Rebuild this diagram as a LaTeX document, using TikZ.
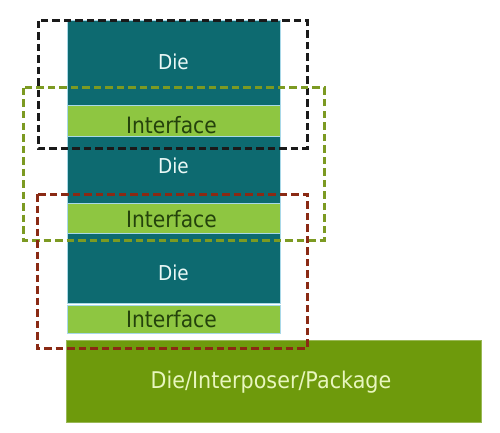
\documentclass[tikz,border=0pt]{standalone}
\usepackage{fontspec}
\setmainfont{DejaVu Sans}[FakeStretch=0.9]
\definecolor{dieC}{HTML}{0D6A70}
\definecolor{intC}{HTML}{8EC641}
\definecolor{pkgC}{HTML}{6E9A0C}
\definecolor{dieT}{HTML}{EAF8F6}
\definecolor{intT}{HTML}{24420C}
\definecolor{pkgT}{HTML}{E8F6BE}
\definecolor{edgeC}{HTML}{A8D8E8}
\definecolor{blkD}{HTML}{1A1A1A}
\definecolor{grnD}{HTML}{7C9A22}
\definecolor{redD}{HTML}{8A2A14}
\tikzset{
  x=1pt, y=-1pt,
  diebox/.style={fill=dieC, draw=edgeC, line width=0.6pt},
  intbox/.style={fill=intC, draw=edgeC, line width=0.6pt},
  pkgbox/.style={fill=pkgC, draw=pkgC!70!white, line width=0.6pt},
  dietext/.style={anchor=base, inner sep=0pt, text=dieT, font=\fontsize{20.5}{24}\selectfont},
  inttext/.style={anchor=base, inner sep=0pt, text=intT, font=\fontsize{22.5}{26}\selectfont},
  pkgtext/.style={anchor=base, inner sep=0pt, text=pkgT, font=\fontsize{23}{27}\selectfont},
  frame/.style={dash pattern=on 7.5pt off 4pt, line width=3pt},
}
\begin{document}
\begin{tikzpicture}
\useasboundingbox (0,0) rectangle (500,433);
\fill[white] (0,0) rectangle (500,433);
% stack
\draw[diebox] (67,20) rectangle (280,105);
\draw[intbox] (67,105) rectangle (280,136);
\draw[diebox] (67,136) rectangle (280,203);
\draw[intbox] (67,203) rectangle (280,233);
\draw[diebox] (67,233) rectangle (280,303);
\draw[intbox] (67,305) rectangle (280,333);
\draw[pkgbox] (66,340) rectangle (481,422);
% labels
\node[dietext] (d1) at (173.5,69.5) {Die};
\node[inttext] (i1) at (171.5,133) {Interface};
\node[dietext] (d2) at (173.5,173) {Die};
\node[inttext] (i2) at (171.5,227) {Interface};
\node[dietext] (d3) at (173.5,280) {Die};
\node[inttext] (i3) at (171.5,327) {Interface};
\node[pkgtext] (p) at (271,388) {Die/Interposer/Package};
% dashed frames
\draw[frame, blkD] (38,21) rectangle (307,148);
\draw[frame, grnD] (23,88) rectangle (324,240);
\draw[frame, redD] (37,194) rectangle (307,348);
\end{tikzpicture}
\end{document}
